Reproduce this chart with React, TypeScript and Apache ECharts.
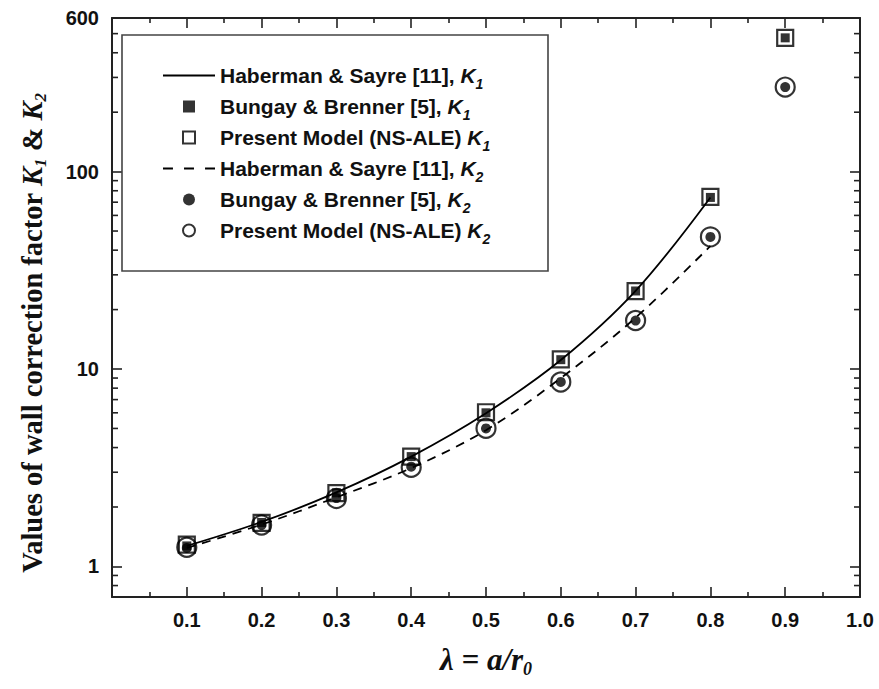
import React, { useEffect, useRef } from "react";
import * as echarts from "echarts";

// ---- data ----
const lambdaCurve = [0.1, 0.2, 0.3, 0.4, 0.5, 0.6, 0.7, 0.8];
const lambdaPts = [0.1, 0.2, 0.3, 0.4, 0.5, 0.6, 0.7, 0.8, 0.9];

const hsK1 = [1.27, 1.68, 2.37, 3.6, 5.97, 11.1, 24.9, 74];
const hsK2 = [1.24, 1.63, 2.24, 3.15, 4.9, 9.0, 18.2, 42];
const bbK1 = [1.27, 1.67, 2.36, 3.6, 6.0, 11.15, 24.85, 74, 476];
const pmK1 = [1.29, 1.66, 2.35, 3.6, 6.04, 11.2, 24.8, 74.5, 476];
const bbK2 = [1.24, 1.62, 2.22, 3.2, 5.0, 8.6, 17.6, 46.7, 268];
const pmK2 = [1.25, 1.62, 2.21, 3.18, 5.01, 8.6, 17.6, 46.7, 268];

const yMinorTicks = [0.8, 0.9, 2, 3, 4, 5, 6, 7, 8, 9, 20, 30, 40, 50, 60, 70, 80, 90, 200, 300, 400, 500];

const NAME_HS1 = "Haberman & Sayre [11], K1";
const NAME_BB1 = "Bungay & Brenner [5], K1";
const NAME_PM1 = "Present Model (NS-ALE) K1";
const NAME_HS2 = "Haberman & Sayre [11], K2";
const NAME_BB2 = "Bungay & Brenner [5], K2";
const NAME_PM2 = "Present Model (NS-ALE) K2";

const legendParts: Record<string, [string, string]> = {
  [NAME_HS1]: ["Haberman & Sayre [11], ", "1"],
  [NAME_BB1]: ["Bungay & Brenner [5], ", "1"],
  [NAME_PM1]: ["Present Model (NS-ALE) ", "1"],
  [NAME_HS2]: ["Haberman & Sayre [11], ", "2"],
  [NAME_BB2]: ["Bungay & Brenner [5], ", "2"],
  [NAME_PM2]: ["Present Model (NS-ALE) ", "2"],
};

const SANS = "Liberation Sans, Arial, sans-serif";
const SERIF = "Liberation Serif, Times New Roman, serif";
const INK = "#111";

const SQUARE = "path://M0,0H10V10H0Z";
const CIRCLE = "path://M5,0A5,5,0,1,1,5,10A5,5,0,1,1,5,0Z";
const SOLID_LINE = "path://M0,0H52V1.8H0Z";
const DASH_LINE = "path://M0,0H9V1.8H0Z M19,0H28V1.8H19Z M38,0H47V1.8H38Z";

export default function App() {
  const ref = useRef<HTMLDivElement>(null);
  useEffect(() => {
    if (!ref.current) return;
    const chart = echarts.init(ref.current, undefined, { renderer: "svg" });

    const hollow = { color: "rgba(0,0,0,0)", borderColor: "#000", borderWidth: 2.2 };
    const filled = { color: "#000", borderColor: "#000", borderWidth: 0 };

    const option: any = {
      animation: false,
      backgroundColor: "#fff",
      grid: { left: 112, top: 18, right: 19, bottom: 92, containLabel: false },
      legend: {
        orient: "vertical",
        left: 163,
        top: 65,
        padding: 0,
        itemGap: 5,
        itemWidth: 52,
        itemHeight: 12,
        symbolKeepAspect: true,
        selectedMode: false,
        data: [
          { name: NAME_HS1, icon: SOLID_LINE },
          { name: NAME_BB1, icon: SQUARE },
          { name: NAME_PM1, icon: SQUARE },
          { name: NAME_HS2, icon: DASH_LINE },
          { name: NAME_BB2, icon: CIRCLE },
          { name: NAME_PM2, icon: CIRCLE },
        ],
        formatter: (name: string) => {
          const p = legendParts[name];
          return `{t|${p[0]}}{k|K}{s|${p[1]}}`;
        },
        textStyle: {
          color: INK,
          fontFamily: SANS,
          fontWeight: "bold",
          fontSize: 21,
          rich: {
            t: { fontFamily: SANS, fontWeight: "bold", fontSize: 21, lineHeight: 31, color: INK },
            k: { fontFamily: SANS, fontWeight: "bold", fontStyle: "italic", fontSize: 21, lineHeight: 31, color: INK },
            s: { fontFamily: SANS, fontWeight: "bold", fontStyle: "italic", fontSize: 14, lineHeight: 8, verticalAlign: "bottom", color: INK },
          },
        },
      },
      graphic: [
        {
          type: "rect",
          shape: { x: 122, y: 35, width: 426, height: 236 },
          style: { fill: "none", stroke: "#444", lineWidth: 1.6 },
          z: 1,
          silent: true,
        },
      ],
      xAxis: [
        {
          type: "value",
          min: 0,
          max: 1,
          interval: 0.1,
          position: "bottom",
          name: "{k|λ = a/r}{s|0}",
          nameLocation: "middle",
          nameGap: 43,
          nameTextStyle: {
            rich: {
              k: { fontFamily: SERIF, fontStyle: "italic", fontWeight: "bold", fontSize: 31, color: INK, lineHeight: 38 },
              s: { fontFamily: SERIF, fontStyle: "italic", fontWeight: "bold", fontSize: 18, color: INK, verticalAlign: "bottom", lineHeight: 10 },
            },
          },
          axisLine: { show: true, onZero: false, lineStyle: { color: "#222", width: 2 } },
          axisTick: { show: true, inside: true, length: 10, lineStyle: { color: "#222", width: 1.6 } },
          minorTick: { show: true, splitNumber: 2, length: 5, lineStyle: { color: "#222", width: 1.6 } },
          splitLine: { show: false },
          minorSplitLine: { show: false },
          axisLabel: {
            margin: 13,
            fontFamily: SANS,
            fontWeight: "bold",
            fontSize: 20,
            color: INK,
            formatter: (v: number) => (v < 0.05 ? "" : v.toFixed(1)),
          },
        },
        {
          type: "value",
          min: 0,
          max: 1,
          interval: 0.1,
          position: "top",
          axisLine: { show: true, onZero: false, lineStyle: { color: "#222", width: 2 } },
          axisTick: { show: true, inside: true, length: 10, lineStyle: { color: "#222", width: 1.6 } },
          minorTick: { show: true, splitNumber: 2, length: 5, lineStyle: { color: "#222", width: 1.6 } },
          splitLine: { show: false },
          axisLabel: { show: false },
        },
      ],
      yAxis: [
        {
          type: "log",
          logBase: 10,
          min: 0.7,
          max: 600,
          position: "left",
          name: "{t|Values of wall correction factor }{k|K}{s|1}{t| & }{k|K}{s|2}",
          nameLocation: "middle",
          nameRotate: 90,
          nameGap: 63,
          nameTextStyle: {
            padding: [0, 51, 0, 0],
            rich: {
              t: { fontFamily: SERIF, fontWeight: "bold", fontSize: 28.5, color: INK, lineHeight: 34 },
              k: { fontFamily: SERIF, fontWeight: "bold", fontStyle: "italic", fontSize: 28.5, color: INK, lineHeight: 34 },
              s: { fontFamily: SERIF, fontWeight: "bold", fontStyle: "italic", fontSize: 17, color: INK, verticalAlign: "bottom", lineHeight: 10 },
            },
          },
          axisLine: { show: true, onZero: false, lineStyle: { color: "#222", width: 2 } },
          axisTick: { show: true, inside: true, length: 10, lineStyle: { color: "#222", width: 1.6 } },
          splitLine: { show: false },
          axisLabel: {
            margin: 13,
            fontFamily: SANS,
            fontWeight: "bold",
            fontSize: 20,
            color: INK,
            formatter: (v: number) => (v < 0.95 ? "" : String(Math.round(v))),
          },
        },
        {
          type: "log",
          logBase: 10,
          min: 0.7,
          max: 600,
          position: "right",
          axisLine: { show: true, onZero: false, lineStyle: { color: "#222", width: 2 } },
          axisTick: { show: true, inside: true, length: 10, lineStyle: { color: "#222", width: 1.6 } },
          splitLine: { show: false },
          axisLabel: { show: false },
        },
      ],
      series: [
        {
          name: NAME_HS1,
          type: "line",
          smooth: 0.35,
          symbol: "none",
          color: "#000",
          lineStyle: { color: "#000", width: 1.8, type: "solid" },
          data: lambdaCurve.map((x, i) => [x, hsK1[i]]),
          z: 2,
        },
        {
          name: NAME_HS2,
          type: "line",
          smooth: 0.35,
          symbol: "none",
          color: "#000",
          lineStyle: { color: "#000", width: 1.8, type: [9, 7] },
          data: lambdaCurve.map((x, i) => [x, hsK2[i]]),
          z: 2,
        },
        {
          name: NAME_PM1,
          type: "scatter",
          symbol: "rect",
          symbolSize: 16,
          itemStyle: hollow,
          data: lambdaPts.map((x, i) => [x, pmK1[i]]),
          z: 3,
        },
        {
          name: NAME_PM2,
          type: "scatter",
          symbol: "circle",
          symbolSize: 19,
          itemStyle: hollow,
          data: lambdaPts.map((x, i) => [x, pmK2[i]]),
          z: 3,
        },
        {
          name: NAME_BB1,
          type: "scatter",
          symbol: "rect",
          symbolSize: 9,
          itemStyle: filled,
          data: lambdaPts.map((x, i) => [x, bbK1[i]]),
          z: 4,
        },
        {
          name: NAME_BB2,
          type: "scatter",
          symbol: "circle",
          symbolSize: 10,
          itemStyle: filled,
          data: lambdaPts.map((x, i) => [x, bbK2[i]]),
          z: 4,
        },
        {
          name: "yMinorTicks",
          type: "custom",
          silent: true,
          clip: false,
          xAxisIndex: 0,
          yAxisIndex: 0,
          data: yMinorTicks.map((v) => [0, v]),
          renderItem: (_params: any, api: any) => {
            const v = api.value(1);
            const p0 = api.coord([0, v]);
            const p1 = api.coord([1, v]);
            const st = { stroke: "#222", lineWidth: 1.6 };
            return {
              type: "group",
              children: [
                { type: "line", shape: { x1: p0[0], y1: p0[1], x2: p0[0] + 6, y2: p0[1] }, style: st },
                { type: "line", shape: { x1: p1[0] - 6, y1: p1[1], x2: p1[0], y2: p1[1] }, style: st },
              ],
            };
          },
          z: 1,
        },
      ],
    };

    chart.setOption(option);
    return () => chart.dispose();
  }, []);

  return (
    <div
      ref={ref}
      style={{ position: "fixed", left: 0, top: 0, width: 879, height: 689, background: "#fff" }}
    />
  );
}
